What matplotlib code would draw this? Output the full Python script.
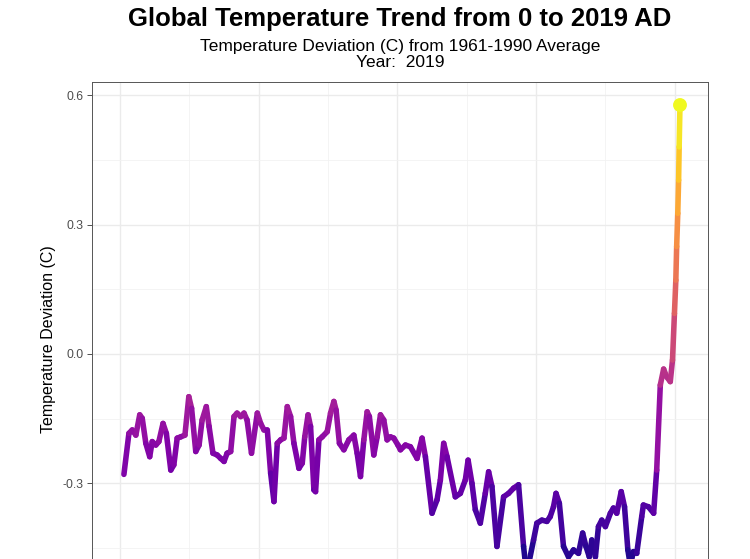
import numpy as np
import matplotlib
matplotlib.use("Agg")
import matplotlib.pyplot as plt
from matplotlib.collections import LineCollection

# values (year, deviation in C)
years = [14, 32, 44, 57, 71, 80, 93, 107, 116, 129, 140, 155, 167, 183, 194,
         206, 219, 234, 248, 258, 273, 285, 296, 311, 321, 335, 350, 363, 375,
         386, 399, 411, 422, 435, 447, 458, 474, 495, 507, 519, 531, 543, 555,
         567, 579, 591, 603, 615, 627, 645, 657, 666, 678, 687, 699, 705, 717,
         729, 747, 759, 771, 779, 791, 807, 825, 843, 855, 867, 879, 891, 899,
         915, 927, 939, 951, 963, 975, 987, 1002, 1011, 1029, 1047, 1071, 1089,
         1101, 1125, 1143, 1155, 1167, 1179, 1209, 1227, 1245, 1255, 1269, 1281,
         1299, 1317, 1329, 1341, 1359, 1383, 1401, 1419, 1437, 1455, 1466, 1491,
         1503, 1521, 1539, 1551, 1563, 1572, 1584, 1599, 1617, 1635, 1653, 1668,
         1680, 1692, 1701, 1714, 1725, 1737, 1750, 1768, 1779, 1791, 1807, 1819,
         1831, 1840, 1851, 1863, 1881, 1887, 1905, 1924, 1935, 1948, 1960, 1971,
         1984, 1992, 1999, 2004, 2007, 2011, 2014, 2016, 2019]
temps = [-0.279, -0.184, -0.176, -0.188, -0.141, -0.149, -0.207, -0.238, -0.203,
         -0.211, -0.203, -0.161, -0.184, -0.269, -0.257, -0.195, -0.192, -0.188,
         -0.099, -0.126, -0.226, -0.211, -0.153, -0.122, -0.168, -0.230, -0.234,
         -0.242, -0.249, -0.230, -0.226, -0.145, -0.137, -0.145, -0.137, -0.153,
         -0.230, -0.137, -0.161, -0.176, -0.176, -0.276, -0.342, -0.207, -0.199,
         -0.195, -0.122, -0.145, -0.207, -0.265, -0.253, -0.192, -0.141, -0.168,
         -0.315, -0.319, -0.199, -0.192, -0.180, -0.137, -0.110, -0.130, -0.207,
         -0.222, -0.199, -0.188, -0.230, -0.284, -0.199, -0.134, -0.145, -0.234,
         -0.192, -0.141, -0.153, -0.199, -0.192, -0.195, -0.211, -0.222, -0.211,
         -0.215, -0.242, -0.195, -0.238, -0.369, -0.338, -0.292, -0.207, -0.238,
         -0.331, -0.323, -0.292, -0.246, -0.300, -0.361, -0.392, -0.323, -0.273,
         -0.307, -0.446, -0.331, -0.323, -0.311, -0.303, -0.446, -0.510, -0.431,
         -0.392, -0.385, -0.388, -0.377, -0.354, -0.323, -0.346, -0.446, -0.470,
         -0.454, -0.462, -0.415, -0.446, -0.470, -0.431, -0.470, -0.400, -0.385,
         -0.400, -0.369, -0.357, -0.369, -0.319, -0.354, -0.454, -0.490, -0.458,
         -0.462, -0.377, -0.350, -0.354, -0.369, -0.269, -0.072, -0.035, -0.053,
         -0.064, -0.014, 0.094, 0.171, 0.249, 0.326, 0.403, 0.480, 0.577]

title = "Global Temperature Trend from 0 to 2019 AD"
subtitle = "Temperature Deviation (C) from 1961-1990 Average\nYear:  2019"
ylabel = "Temperature Deviation (C)"
# only the breaks that fall inside the cropped frame
y_major = [-0.3, 0.0, 0.3, 0.6]
y_labels = ["-0.3", "0.0", "0.3", "0.6"]
y_minor = [-0.45, -0.15, 0.15, 0.45]
x_major = [0, 500, 1000, 1500, 2000]
x_minor = [250, 750, 1250, 1750]

plt.rcParams['font.family'] = ['Liberation Sans', 'DejaVu Sans']

fig = plt.figure(figsize=(7.5, 5.59), dpi=100)
# panel runs past the bottom edge of the frame, like the cropped reference
ax = fig.add_axes([0.1227, -0.0689, 0.8213, 0.923])

x = np.array(years, dtype=float)
y = np.array(temps)
rng = y.max() - y.min()
ax.set_xlim(-101, 2120)
ax.set_ylim(y.min() - 0.05 * rng, y.max() + 0.05 * rng)

norm = plt.Normalize(y.min(), y.max())
pts = np.column_stack([x, y]).reshape(-1, 1, 2)
segs = np.concatenate([pts[:-1], pts[1:]], axis=1)
lc = LineCollection(segs, cmap='plasma', norm=norm, linewidths=4.0,
                    capstyle='round', joinstyle='round', zorder=3)
lc.set_array((y[:-1] + y[1:]) / 2)
ax.add_collection(lc)
ax.scatter([x[-1]], [y[-1]], s=100, color=plt.cm.plasma(1.0), zorder=4,
           edgecolors='none')

ax.set_xticks(x_major)
ax.set_xticks(x_minor, minor=True)
ax.set_yticks(y_major)
ax.set_yticks(y_minor, minor=True)
ax.set_yticklabels(y_labels)
ax.grid(True, which='major', color='#ebebeb', linewidth=1.0, zorder=0)
ax.grid(True, which='minor', color='#f2f2f2', linewidth=0.6, zorder=0)
ax.set_axisbelow(True)
ax.tick_params(which='major', length=3.5, width=0.6, color='#333333',
               labelcolor='#4d4d4d', labelsize=8.8, pad=2.5)
ax.tick_params(which='minor', length=0)
# the year labels sit below the cropped frame, as in the reference
ax.tick_params(axis='x', labelbottom=False)
for s in ax.spines.values():
    s.set_color('#555555')
    s.set_linewidth(0.7)

ax.set_ylabel(ylabel, fontsize=11.5, labelpad=4.5)
fig.text(0.5333, 0.966, title, ha='center', va='center', fontsize=18.5,
         fontweight='bold')
fig.text(0.5333, 0.9025, subtitle, ha='center', va='center', fontsize=12.5,
         linespacing=1.1)

fig.savefig("out.png", dpi=100)
